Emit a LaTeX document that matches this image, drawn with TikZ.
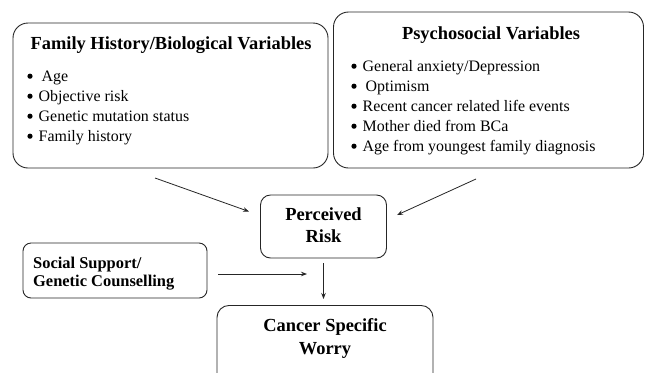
\documentclass[tikz,border=0pt]{standalone}
\usepackage{fontspec}
\setmainfont{Liberation Serif}
\usetikzlibrary{arrows.meta}
\tikzset{
  box/.style={draw=black!85, line width=0.9bp, rounded corners=#1, inner sep=0pt},
  box/.default=12bp,
  ttl/.style={font=\fontsize{18.5}{22}\selectfont\bfseries, anchor=base, inner sep=0pt},
  sml/.style={font=\fontsize{16.5}{19}\selectfont\bfseries, anchor=base west, inner sep=0pt},
  itm/.style={font=\fontsize{16}{20}\selectfont, anchor=base west, inner sep=0pt},
  arr/.style={draw=black!85, line width=0.8bp, -{Stealth[length=6bp,width=4.5bp]}},
  dot/.style={fill=black}
}
\newcommand{\itemdot}[1]{\fill[dot] ([xshift=-8.5bp,yshift=4.8bp]#1.base west) circle[radius=2.6bp];}
\begin{document}
\begin{tikzpicture}[x=1bp,y=-1bp]
\clip (0,0) rectangle (647,372);
\fill[white] (0,0) rectangle (647,372);
% boxes
\node[box=15bp, minimum width=315bp, minimum height=145bp] (fam) at (170.5,95.5) {};
\node[box=15bp, minimum width=310bp, minimum height=156bp] (psy) at (488.5,90) {};
\node[box=10bp, minimum width=126bp, minimum height=63bp] (risk) at (323.5,226.5) {};
\node[box=8bp, minimum width=184bp, minimum height=55bp] (soc) at (115,270.5) {};
\node[box=12bp, minimum width=216bp, minimum height=85bp, anchor=north] (worry) at (325,305) {};
% family text
\node[ttl] (famt) at (171,49) {Family History/Biological Variables};
\node[itm] (f1) at (41.5,81) {Age};
\node[itm] (f2) at (38.5,101) {Objective risk};
\node[itm] (f3) at (38.5,121) {Genetic mutation status};
\node[itm] (f4) at (38.5,141) {Family history};
\fill[dot] (30,76.2) circle[radius=2.6bp];
\itemdot{f2}\itemdot{f3}\itemdot{f4}
% psychosocial text
\node[ttl] (psyt) at (491,39) {Psychosocial Variables};
\node[itm] (p1) at (362.5,71) {General anxiety/Depression};
\node[itm] (p2) at (365.5,91) {Optimism};
\node[itm] (p3) at (362.5,111) {Recent cancer related life events};
\node[itm] (p4) at (362.5,131) {Mother died from BCa};
\node[itm] (p5) at (362.5,151) {Age from youngest family diagnosis};
\itemdot{p1}\itemdot{p3}\itemdot{p4}\itemdot{p5}
\fill[dot] (354,86.2) circle[radius=2.6bp];
% perceived risk
\node[ttl] (r1) at (323.5,220) {Perceived};
\node[ttl] (r2) at (323.5,242) {Risk};
% social support
\node[sml] (s1) at (33,268) {Social Support/};
\node[sml] (s2) at (33,286) {Genetic Counselling};
% worry
\node[ttl] (w1) at (325,331) {Cancer Specific};
\node[ttl] (w2) at (325,354) {Worry};
% connectors
\coordinate (a1) at (155,178);
\coordinate (a2) at (476,179);
\coordinate (hs) at (218,274);
\coordinate (he) at (307,274);
\draw[arr] (a1) -- (249,211.5);
\draw[arr] (a2) -- (397,215);
\draw[arr] (hs) -- (he);
\draw[arr, shorten <=5bp, shorten >=6bp] (risk.south) -- (risk.south |- worry.north);
\end{tikzpicture}
\end{document}
